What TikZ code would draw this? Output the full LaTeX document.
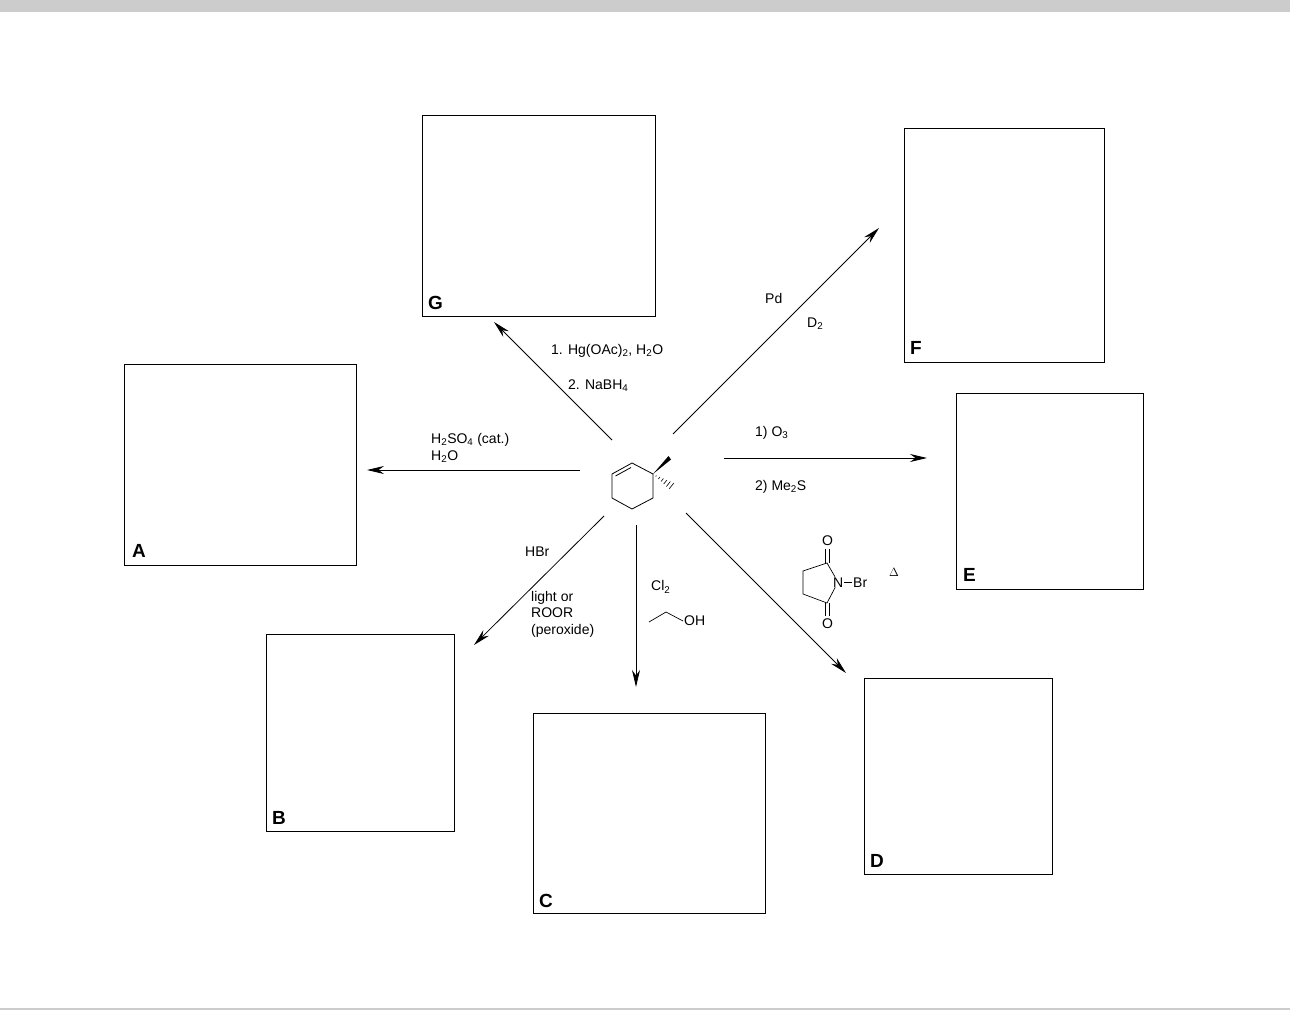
\documentclass[tikz,border=0pt]{standalone}
\usepackage{fontspec}
\setmainfont{Liberation Sans}
\usetikzlibrary{arrows.meta,calc}
\newcommand{\sbs}[1]{\textsubscript{#1}}
\begin{document}
\begin{tikzpicture}[x=1pt,y=-1pt,
  box/.style={draw,line width=0.8pt},
  lbl/.style={font=\fontsize{19}{19}\selectfont\bfseries,anchor=south west,inner sep=0pt},
  rx/.style={-{Stealth[length=17pt,width=8pt]},line width=0.8pt},
  t/.style={font=\fontsize{14}{15}\selectfont,anchor=west,inner sep=0pt,align=left}]
\useasboundingbox (0,0) rectangle (1290,1011);
\fill[black!20] (0,0) rectangle (1290,12);
\draw[black!20,line width=1.5pt] (0,1009) -- (1290,1009);
% boxes
\draw[box] (422,115) rectangle (655,316); \node[lbl] (lG) at (428,310) {G};
\draw[box] (904,128) rectangle (1104,362); \node[lbl] (lF) at (910,355) {F};
\draw[box] (124,364) rectangle (356,565); \node[lbl] (lA) at (132,558) {A};
\draw[box] (956,393) rectangle (1143,589); \node[lbl] (lE) at (963,582) {E};
\draw[box] (266,634) rectangle (454,831); \node[lbl] (lB) at (272,825) {B};
\draw[box] (533,713) rectangle (765,913); \node[lbl] (lC) at (539,908) {C};
\draw[box] (864,678) rectangle (1052,874); \node[lbl] (lD) at (870,868) {D};
% molecule
\coordinate (r1) at (632,463); \coordinate (r2) at (612,474); \coordinate (r3) at (612,498);
\coordinate (r4) at (632,509); \coordinate (r5) at (653,498); \coordinate (r6) at (653,474);
\draw[line width=0.8pt] (r1)--(r2)--(r3)--(r4)--(r5)--(r6)--cycle;
\draw[line width=0.8pt] (631,467.5)--(615.5,476);
\fill (r6) -- (668.5,456) -- (671,459.5) -- cycle;
\foreach \i in {1,...,6} {\draw[line width=0.6pt] ($(r6)!{\i/6.5}!(673,487)+(-\i*0.4,\i*0.5)$) -- ($(r6)!{\i/6.5}!(673,487)+(\i*0.4,-\i*0.5)$);}
% arrows
\draw[rx] (612,440) -- (494,322);
\draw[rx] (673,434) -- (879,228);
\draw[rx] (580,470) -- (367,470);
\draw[rx] (724,458) -- (927,458);
\draw[rx] (604,516) -- (474,645);
\draw[rx] (636,525) -- (636,687);
\draw[rx] (686,513) -- (846,673);
% reagents
\node[t] (g1) at (551,351) {1. Hg(OAc)\sbs{2}, H\sbs{2}O};
\node[t] (g2) at (568,386) {2. NaBH\sbs{4}};
\node[t] (f1) at (765,298) {Pd};
\node[t] (f2) at (807,324) {D\sbs{2}};
\node[t] (a1) at (431,440) {H\sbs{2}SO\sbs{4} (cat.)};
\node[t] (a2) at (431,457) {H\sbs{2}O};
\node[t] (e1) at (755,433) {1) O\sbs{3}};
\node[t] (e2) at (755,487) {2) Me\sbs{2}S};
\node[t] (b1) at (525,552) {HBr};
\node[t,font=\fontsize{14}{16.5}\selectfont] (b2) at (531,614) {light or\\ROOR\\(peroxide)};
\node[t] (c1) at (651,587) {Cl\sbs{2}};
\draw[line width=0.7pt] (649,622)--(666,612)--(683,621);
\node[t] (c2) at (684,621) {OH};
\node[t,font=\fontsize{12}{12}\selectfont] (d1) at (889,572) {$\Delta$};
% NBS
\draw[line width=0.7pt] (838,582)--(827,563)--(803,571)--(803,594)--(827,603)--cycle;
\draw[line width=0.7pt] (825,563)--(825,549) (829,563)--(829,549);
\draw[line width=0.7pt] (825,603)--(825,616) (829,603)--(829,616);
\fill[white] (838,582) circle (6);
\node[t] (n) at (833,583) {N};
\draw[line width=0.7pt] (844,582)--(852,582);
\node[t] (br) at (853,583) {Br};
\node[t] (o1) at (822,541) {O};
\node[t] (o2) at (822,624) {O};
\end{tikzpicture}
\end{document}
